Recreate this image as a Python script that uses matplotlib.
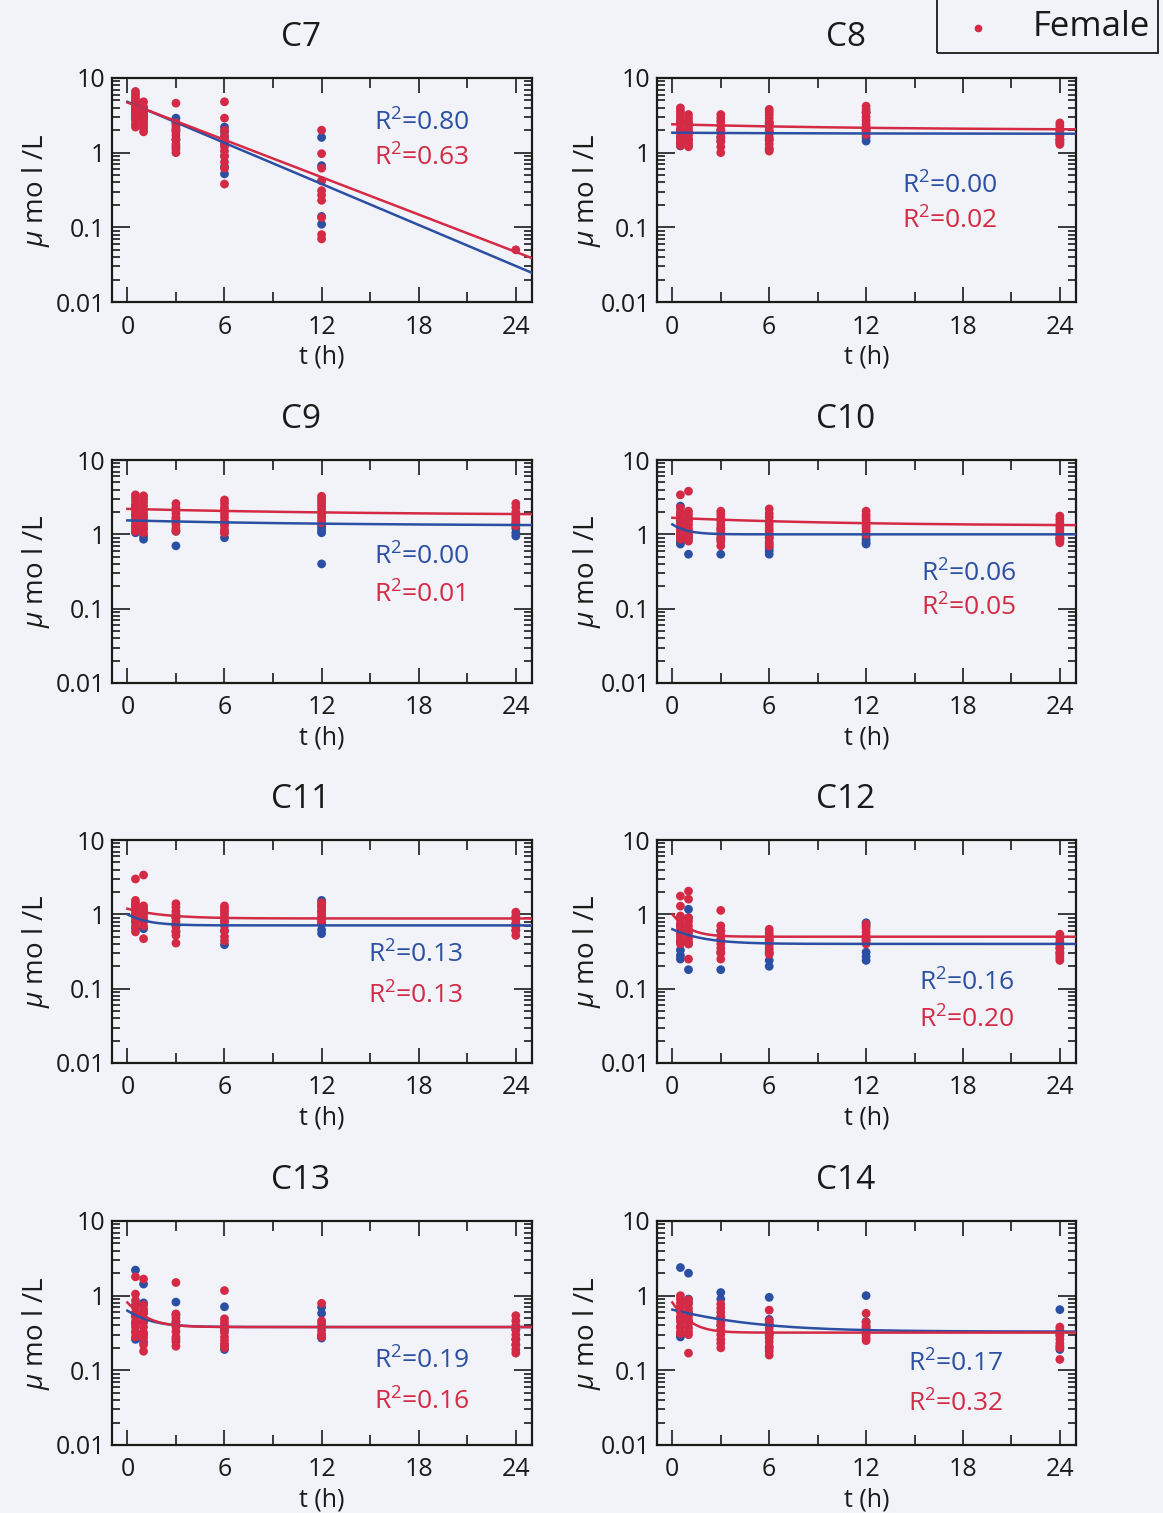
import matplotlib.pyplot as plt
import matplotlib.ticker as mticker
from matplotlib.lines import Line2D
from matplotlib.patches import Rectangle
import numpy as np

plt.rcParams["font.family"] = ["Open Sans", "DejaVu Sans"]
plt.rcParams["mathtext.fontset"] = "custom"
plt.rcParams["mathtext.rm"] = "Open Sans"
plt.rcParams["mathtext.it"] = "Open Sans:italic"

BLUE = "#2b4fa2"
RED = "#d42a45"
BG = "#f1f3f8"
INK = "#1a1a1a"

PANELS = ["C7", "C8", "C9", "C10", "C11", "C12", "C13", "C14"]
TIMES = [0.5, 1, 3, 6, 12, 24]

# concentrations (umol/L) per sampling time, male (blue) and female (red)
C7_MALE = [[5.0, 4.4, 3.9, 3.5, 3.2, 2.9], [3.9, 3.5, 3.1, 2.8],
           [2.9, 2.5, 2.0, 1.5, 1.2], [2.2, 1.9, 1.6, 1.3, 0.9, 0.65, 0.52],
           [1.6, 0.67, 0.42, 0.14, 0.11], []]
C7_FEMALE = [[6.6, 6.0, 5.5, 5.0, 4.6, 4.2, 3.8, 3.4, 3.0, 2.7, 2.4, 2.2],
             [4.8, 4.1, 3.7, 3.4, 3.1, 2.8, 2.5, 2.3, 2.1, 1.9],
             [4.6, 2.5, 2.3, 2.1, 1.9, 1.7, 1.5, 1.3, 1.1, 1.0],
             [4.8, 2.9, 2.0, 1.7, 1.5, 1.35, 1.2, 1.05, 0.9, 0.75, 0.62, 0.38],
             [2.0, 0.97, 0.62, 0.42, 0.31, 0.27, 0.23, 0.135, 0.08, 0.07],
             [0.05]]

C8_MALE = [[2.6, 2.0, 1.6, 1.35, 1.23], [2.5, 1.9, 1.5, 1.25], [2.0, 1.6, 1.43],
           [2.5, 1.9, 1.5, 1.1], [3.5, 2.0, 1.6, 1.43], [2.0, 1.7, 1.5, 1.36]]
C8_FEMALE = [[3.98, 3.6, 3.3, 3.0, 2.7, 2.4, 2.1, 1.9, 1.7, 1.5, 1.35, 1.25],
             [3.24, 2.9, 2.6, 2.3, 2.1, 1.9, 1.7, 1.5, 1.35, 1.2],
             [3.24, 2.9, 2.6, 2.3, 2.0, 1.8, 1.6, 1.4, 1.2, 1.0],
             [3.8, 3.5, 3.2, 2.9, 2.6, 2.4, 2.2, 2.0, 1.8, 1.6, 1.45, 1.3, 1.15, 1.05],
             [4.2, 3.8, 3.4, 3.0, 2.7, 2.4, 2.2, 2.0, 1.85, 1.75],
             [2.5, 2.3, 2.1, 1.95, 1.8, 1.65, 1.5, 1.4, 1.29]]

C9_MALE = [[2.4, 1.8, 1.3, 1.05], [1.7, 1.2, 0.95, 0.86], [1.6, 1.1, 0.70],
           [1.4, 1.05, 0.9], [1.3, 1.2, 1.1, 1.05, 0.40], [1.36, 1.2, 1.05, 0.95]]
C9_FEMALE = [[3.4, 3.1, 2.8, 2.5, 2.2, 2.0, 1.8, 1.6, 1.45, 1.3, 1.2, 1.1],
             [3.3, 3.0, 2.7, 2.4, 2.1, 1.9, 1.7, 1.5, 1.35, 1.2, 1.05],
             [2.6, 2.3, 2.1, 1.9, 1.7, 1.5, 1.35, 1.2, 1.1],
             [2.9, 2.6, 2.3, 2.1, 1.9, 1.7, 1.5, 1.3, 1.15, 1.05],
             [3.25, 3.0, 2.8, 2.6, 2.4, 2.2, 2.0, 1.85, 1.7, 1.55, 1.43],
             [2.6, 2.3, 2.0, 1.8, 1.65, 1.5, 1.4, 1.3]]

C10_MALE = [[2.4, 1.9, 1.5, 1.2, 0.95, 0.8, 0.74], [1.6, 1.0, 0.9, 0.54],
            [1.2, 0.85, 0.54], [0.9, 0.75, 0.66, 0.6, 0.54],
            [0.95, 0.85, 0.78, 0.74], [1.0, 0.9, 0.86]]
C10_FEMALE = [[3.4, 2.27, 2.0, 1.8, 1.6, 1.4, 1.25, 1.1, 1.0, 0.92, 0.86],
              [3.8, 2.05, 1.85, 1.65, 1.5, 1.35, 1.2, 1.1, 1.0, 0.9, 0.81],
              [2.05, 1.85, 1.65, 1.5, 1.35, 1.2, 1.1, 1.0, 0.9, 0.8, 0.7],
              [2.2, 1.9, 1.7, 1.5, 1.35, 1.2, 1.1, 1.0, 0.9, 0.8, 0.7],
              [2.05, 1.85, 1.7, 1.55, 1.4, 1.3, 1.2, 1.1, 1.0],
              [1.76, 1.6, 1.45, 1.3, 1.2, 1.1, 1.0, 0.9, 0.82, 0.77]]

C11_MALE = [[1.3, 1.0, 0.8, 0.65], [1.1, 0.85, 0.64], [0.9, 0.7, 0.58],
            [0.8, 0.6, 0.39], [1.54, 1.3, 1.1, 0.9, 0.75, 0.62, 0.55],
            [0.9, 0.75, 0.61]]
C11_FEMALE = [[2.99, 1.54, 1.4, 1.25, 1.1, 1.0, 0.9, 0.8, 0.7, 0.58],
              [3.38, 1.3, 1.2, 1.1, 1.0, 0.9, 0.8, 0.7, 0.47],
              [1.39, 1.25, 1.1, 1.0, 0.9, 0.8, 0.7, 0.6, 0.52, 0.41],
              [1.3, 1.2, 1.1, 1.0, 0.9, 0.8, 0.7, 0.6, 0.5, 0.44],
              [1.43, 1.3, 1.2, 1.1, 1.0, 0.92, 0.85, 0.79],
              [1.07, 0.95, 0.85, 0.75, 0.68, 0.6, 0.52]]

C12_MALE = [[0.9, 0.7, 0.55, 0.42, 0.33, 0.28, 0.25], [1.17, 0.9, 0.6, 0.4, 0.18],
            [0.6, 0.45, 0.31, 0.18], [0.45, 0.3, 0.24, 0.2],
            [0.77, 0.7, 0.45, 0.31, 0.27, 0.24], [0.4, 0.35, 0.3]]
C12_FEMALE = [[1.76, 1.29, 0.95, 0.85, 0.75, 0.65, 0.57, 0.5, 0.45, 0.40],
              [2.05, 1.6, 0.9, 0.8, 0.7, 0.62, 0.55, 0.48, 0.43, 0.40, 0.25],
              [1.13, 0.7, 0.6, 0.52, 0.46, 0.4, 0.35, 0.3, 0.25],
              [0.63, 0.57, 0.52, 0.47, 0.43, 0.39, 0.35, 0.32, 0.29],
              [0.74, 0.65, 0.58, 0.52, 0.47, 0.43, 0.40],
              [0.54, 0.48, 0.43, 0.39, 0.35, 0.31, 0.28, 0.26, 0.24]]

C13_MALE = [[2.2, 0.75, 0.55, 0.42, 0.33, 0.26], [1.43, 0.8, 0.6, 0.45, 0.3, 0.24],
            [0.82, 0.55, 0.45, 0.26], [0.71, 0.35, 0.22, 0.19],
            [0.7, 0.58, 0.3, 0.27], [0.35, 0.26, 0.22]]
C13_FEMALE = [[1.79, 1.05, 0.86, 0.7, 0.6, 0.52, 0.45, 0.38, 0.32, 0.28],
              [1.67, 0.75, 0.66, 0.58, 0.5, 0.44, 0.38, 0.32, 0.27, 0.22, 0.18],
              [1.5, 0.57, 0.5, 0.44, 0.38, 0.33, 0.28, 0.24, 0.21],
              [1.17, 0.49, 0.44, 0.4, 0.36, 0.32, 0.28, 0.25, 0.22, 0.2],
              [0.79, 0.46, 0.42, 0.38, 0.34, 0.3, 0.28],
              [0.54, 0.46, 0.4, 0.35, 0.3, 0.26, 0.22, 0.19, 0.17]]

C14_MALE = [[2.38, 0.7, 0.5, 0.38, 0.3, 0.28], [2.0, 0.9, 0.8, 0.6, 0.45],
            [1.1, 0.9, 0.52, 0.4], [0.95, 0.48, 0.42, 0.3, 0.2],
            [1.0, 0.45, 0.38, 0.34], [0.65, 0.3, 0.21, 0.19]]
C14_FEMALE = [[1.0, 0.9, 0.8, 0.7, 0.6, 0.52, 0.45, 0.38, 0.33, 0.31],
              [0.88, 0.78, 0.68, 0.6, 0.53, 0.47, 0.42, 0.37, 0.33, 0.3, 0.17],
              [0.77, 0.68, 0.6, 0.52, 0.45, 0.4, 0.35, 0.3, 0.26, 0.23, 0.2],
              [0.64, 0.46, 0.41, 0.37, 0.33, 0.3, 0.27, 0.24, 0.21, 0.18, 0.16],
              [0.58, 0.44, 0.4, 0.36, 0.33, 0.3, 0.27, 0.25],
              [0.38, 0.35, 0.32, 0.29, 0.26, 0.23, 0.2, 0.14]]

MALE = [C7_MALE, C8_MALE, C9_MALE, C10_MALE, C11_MALE, C12_MALE, C13_MALE, C14_MALE]
FEMALE = [C7_FEMALE, C8_FEMALE, C9_FEMALE, C10_FEMALE,
          C11_FEMALE, C12_FEMALE, C13_FEMALE, C14_FEMALE]

# fitted curves y = base + amp * exp(-k t)
FIT_MALE = [(0.0, 4.8, 0.211), (1.79, 0.06, 0.10), (1.30, 0.24, 0.08), (1.00, 0.36, 1.2),
            (0.71, 0.29, 0.9), (0.40, 0.23, 0.6), (0.38, 0.25, 0.8), (0.33, 0.32, 0.25)]
FIT_FEMALE = [(0.0, 4.7, 0.192), (2.00, 0.40, 0.08), (1.80, 0.40, 0.07), (1.30, 0.37, 0.10),
              (0.88, 0.31, 0.5), (0.50, 0.50, 1.2), (0.38, 0.43, 1.0), (0.32, 0.49, 1.2)]

R2_MALE = [0.80, 0.00, 0.00, 0.06, 0.13, 0.16, 0.19, 0.17]
R2_FEMALE = [0.63, 0.02, 0.01, 0.05, 0.13, 0.20, 0.16, 0.32]

# where the R^2 pair sits in each panel (axes fraction: x, y of male, y of female)
R2_POS = [(0.625, 0.80, 0.645), (0.585, 0.52, 0.36), (0.625, 0.565, 0.395), (0.63, 0.49, 0.335),
          (0.61, 0.485, 0.30), (0.625, 0.36, 0.195), (0.625, 0.375, 0.19), (0.60, 0.36, 0.185)]

W, H = 1163, 1513
COL_X = [(112, 532), (657, 1076)]
ROW_Y = [(78, 302), (460, 683), (840, 1063), (1221, 1445)]


def fit_curve(params, t):
    base, amp, k = params
    return base + amp * np.exp(-k * t)


def style_axes(ax):
    ax.set_facecolor(BG)
    ax.set_yscale("log")
    ax.set_ylim(0.01, 10)
    ax.set_xlim(-0.95, 25)
    ax.set_xticks([0, 6, 12, 18, 24])
    ax.set_xticks([3, 9, 15, 21], minor=True)
    ax.yaxis.set_major_locator(mticker.FixedLocator([0.01, 0.1, 1, 10]))
    ax.yaxis.set_major_formatter(mticker.FixedFormatter(["0.01", "0.1", "1", "10"]))
    ax.yaxis.set_minor_locator(mticker.LogLocator(base=10, subs=np.arange(2, 10)))
    ax.yaxis.set_minor_formatter(mticker.NullFormatter())
    ax.tick_params(which="both", direction="in", top=True, right=True,
                   labelsize=18, colors=INK, width=1.2)
    ax.tick_params(axis="x", which="major", length=11, pad=9)
    ax.tick_params(axis="x", which="minor", length=7)
    ax.tick_params(axis="y", which="major", length=13, pad=5)
    ax.tick_params(axis="y", which="minor", length=6)
    for spine in ax.spines.values():
        spine.set_linewidth(1.6)
        spine.set_color(INK)


fig = plt.figure(figsize=(W / 100, H / 100), dpi=100)
fig.patch.set_facecolor(BG)

t_line = np.linspace(0, 25, 300)

for i, name in enumerate(PANELS):
    row, col = divmod(i, 2)
    x0, x1 = COL_X[col]
    y0, y1 = ROW_Y[row]
    ax = fig.add_axes([x0 / W, 1 - y1 / H, (x1 - x0) / W, (y1 - y0) / H])
    style_axes(ax)

    for data, color in ((MALE[i], BLUE), (FEMALE[i], RED)):
        for t, vals in zip(TIMES, data):
            if vals:
                ax.scatter([t] * len(vals), vals, s=40, color=color,
                           edgecolors="none", zorder=3, clip_on=False)

    ax.plot(t_line, fit_curve(FIT_MALE[i], t_line), color=BLUE, lw=1.8, zorder=4)
    ax.plot(t_line, fit_curve(FIT_FEMALE[i], t_line), color=RED, lw=1.8, zorder=4)

    px, py_m, py_f = R2_POS[i]
    ax.text(px, py_m, f"R$^2$={R2_MALE[i]:.2f}", transform=ax.transAxes,
            color=BLUE, fontsize=19, va="center", ha="left")
    ax.text(px, py_f, f"R$^2$={R2_FEMALE[i]:.2f}", transform=ax.transAxes,
            color=RED, fontsize=19, va="center", ha="left")

    ax.text(0.45, 1.18, name, transform=ax.transAxes, fontsize=24,
            ha="center", va="center", color=INK)
    ax.set_xlabel("t (h)", fontsize=18, color=INK, va="center")
    ax.xaxis.set_label_coords(0.5, -0.245)
    ax.set_ylabel(r"$\mu$ mo l /L", fontsize=20, color=INK, va="center")
    ax.yaxis.set_label_coords(-0.18 if col == 0 else -0.167, 0.5)

# legend box running off the top edge
fig.patches.append(Rectangle((937 / W, 1 - 53 / H), (1158 - 937) / W, 80 / H,
                             transform=fig.transFigure, fill=False,
                             edgecolor=INK, lw=1.3))
fig.add_artist(Line2D([978 / W], [1 - 28 / H], marker="o", markersize=4.5,
                      color=RED, linestyle="none", transform=fig.transFigure))
fig.text(1033 / W, 1 - 27 / H, "Female", fontsize=25, va="center", ha="left",
         color=INK)

plt.savefig("out.png", dpi=100, facecolor=BG)
plt.close()
